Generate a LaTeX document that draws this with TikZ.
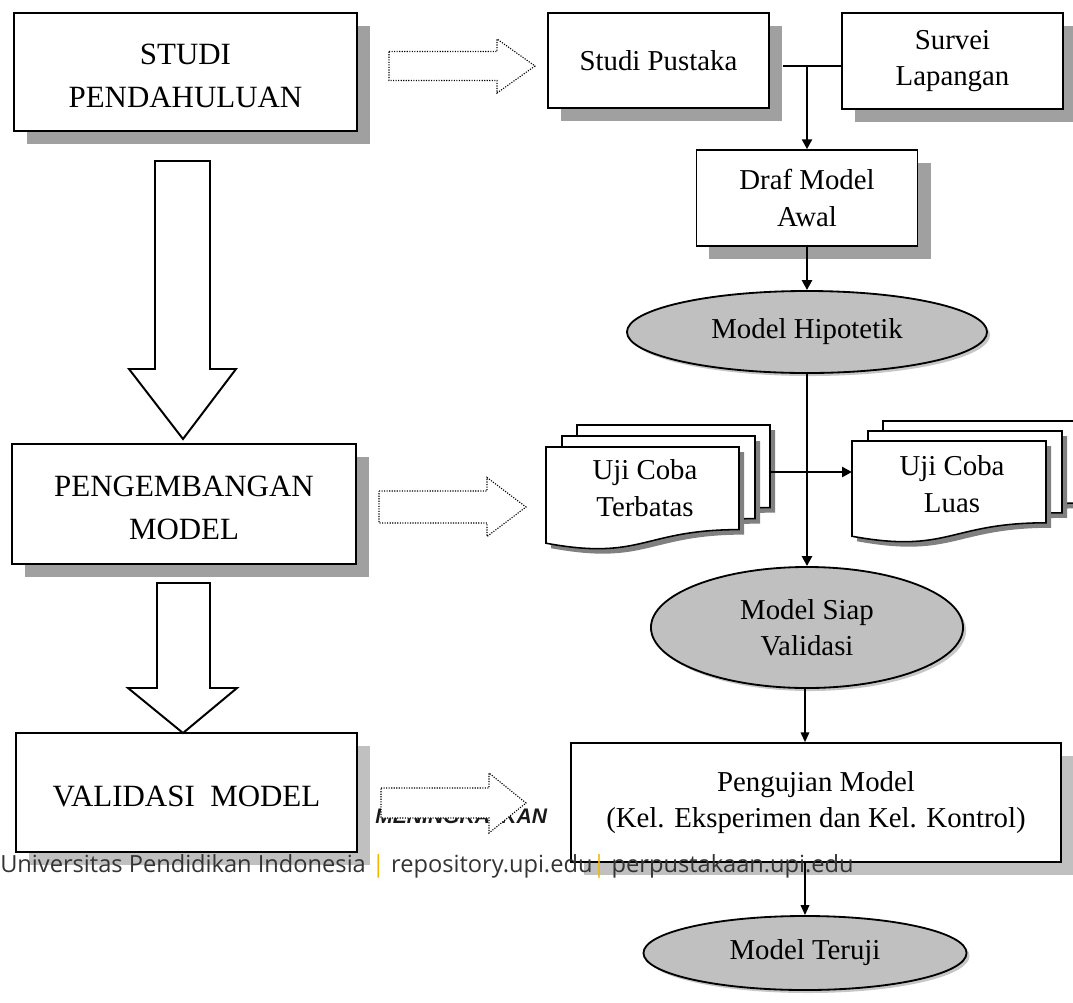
\documentclass[tikz,border=0pt]{standalone}
\usepackage{fontspec}
\setmainfont{Liberation Serif}
\newfontfamily\footfont{Open Sans}
\newfontfamily\headfont{Liberation Sans}
\usetikzlibrary{shapes.geometric,shadows,arrows.meta,calc}

\definecolor{boxshade}{HTML}{A0A0A0}
\definecolor{lightshade}{HTML}{C0C0C0}
\definecolor{docshade}{HTML}{808080}
\definecolor{ovalfill}{HTML}{C0C0C0}
\definecolor{foottext}{HTML}{333333}
\definecolor{footbar}{HTML}{F5B800}

% one page of a document stack: top-left x, top-left y, width, height
\newcommand{\docpage}[4]{%
  \begin{scope}[shift={(#1,#2)}]
    \fill[docshade] (5,5) -- (#3+5,5) -- (#3+5,0.802*#4+5) .. controls (0.5*#3+5,0.802*#4+5) and (0.5*#3+5,1.107*#4+5) .. (5,0.934*#4+5) -- cycle;
    \filldraw[fill=white, draw=black, line width=1.1pt] (0,0) -- (#3,0) -- (#3,0.802*#4) .. controls (0.5*#3,0.802*#4) and (0.5*#3,1.107*#4) .. (0,0.934*#4) -- cycle;
  \end{scope}}

% dotted hollow arrow: left x, head x, tip x, centre y, shaft half, head half
\newcommand{\dotarrow}[6]{%
  \filldraw[fill=white, draw=black, densely dotted, line width=0.8pt]
    (#1,#4-#5) -- (#2,#4-#5) -- (#2,#4-#6) -- (#3,#4) -- (#2,#4+#6) -- (#2,#4+#5) -- (#1,#4+#5) -- cycle;}

\newcommand{\topstrut}{\rule{0pt}{20pt}}

\begin{document}
\begin{tikzpicture}[x=0.025cm, y=-0.025cm]
	\tikzstyle{mainbox} = [draw=black, line width=1.1pt, fill=white, inner sep=0pt, align=center,
		font=\fontsize{22}{30.5}\selectfont,
		drop shadow={shadow xshift=0.325cm, shadow yshift=-0.325cm, fill=boxshade, opacity=1}]
	\tikzstyle{stepbox} = [draw=black, line width=1.1pt, fill=white, inner sep=0pt, align=center,
		font=\fontsize{20.5}{26}\selectfont,
		drop shadow={shadow xshift=0.325cm, shadow yshift=-0.325cm, fill=boxshade, opacity=1}]
	\tikzstyle{oval} = [ellipse, draw=black, line width=1.3pt, fill=ovalfill, inner sep=0pt, align=center,
		font=\fontsize{20.5}{26}\selectfont,
		drop shadow={shadow xshift=0.075cm, shadow yshift=-0.075cm, fill=gray!45, opacity=1}]
	\tikzstyle{doctext} = [align=center, inner sep=0pt, font=\fontsize{20.5}{26}\selectfont]
	\tikzstyle{blockarrow} = [draw=black, fill=white, line width=1.4pt, line join=miter]
	\tikzstyle{conn} = [draw=black, line width=2pt, -{Triangle[length=7pt,width=7pt]}]
	\tikzstyle{thinconn} = [draw=black, line width=1.3pt, -{Triangle[length=7pt,width=6pt]}]

	\useasboundingbox (0,0) rectangle (1073,1002);

	% stages on the left
	\node[mainbox, minimum width=8.575cm, minimum height=2.95cm] (studi) at (185.5,72) {\topstrut STUDI\\PENDAHULUAN};
	\node[mainbox, minimum width=8.6cm, minimum height=3cm] (kembang) at (184,504) {\topstrut PENGEMBANGAN\\MODEL};
	\node[mainbox, minimum width=8.525cm, minimum height=2.975cm,
		drop shadow={shadow xshift=0.325cm, shadow yshift=-0.325cm, fill=lightshade, opacity=1}] (validasi) at (186.5,792.5) {\topstrut VALIDASI\ \ MODEL};

	\draw[blockarrow] (155,161) -- (210,161) -- (210,369) -- (236,369) -- (183,439) -- (129,369) -- (155,369) -- cycle;
	\draw[blockarrow] (157,583) -- (210,583) -- (210,688) -- (237,688) -- (183,733) -- (128,688) -- (157,688) -- cycle;

	\node[anchor=base west, inner sep=0pt, text=black!90, font=\headfont\bfseries\itshape\fontsize{15}{18}\selectfont] (kata) at (375,823) {MENINGKATKAN};

	\dotarrow{389}{497}{535}{66}{14.5}{27}
	\dotarrow{379}{487}{526}{507}{16}{29.5}
	\dotarrow{381}{489}{526}{803}{15}{30}

	% steps on the right
	\node[stepbox, minimum width=5.525cm, minimum height=2.375cm] (pustaka) at (658.5,60.5) {Studi Pustaka};
	\node[stepbox, minimum width=5.525cm, minimum height=2.4cm] (survei) at (952.5,61) {Survei\\Lapangan};
	\node[stepbox, minimum width=5.525cm, minimum height=2.4cm] (draf) at (807,198) {Draf Model\\Awal};
	\node[oval, minimum width=9cm, minimum height=2.05cm] (hipo) at (807,332) {Model Hipotetik};

	\docpage{577}{425}{193}{103}
	\docpage{562}{436}{193}{103}
	\docpage{546}{447}{193}{103}
	\node[doctext] (terbatas) at (645,488) {Uji Coba\\Terbatas};
	\docpage{883}{421}{205}{102}
	\docpage{868}{431}{194}{102}
	\docpage{852}{441}{194}{102}
	\node[doctext] (luas) at (952,484) {Uji Coba\\Luas};

	\node[oval, minimum width=7.8cm, minimum height=3.025cm] (siap) at (807,627.5) {Model Siap\\Validasi};
	\node[stepbox, minimum width=12.25cm, minimum height=2.975cm,
		drop shadow={shadow xshift=0.325cm, shadow yshift=-0.325cm, fill=lightshade, opacity=1}] (pengujian) at (816,802.5) {Pengujian Model\\(Kel. Eksperimen dan Kel. Kontrol)};
	\node[oval, minimum width=8.075cm, minimum height=1.85cm] (teruji) at (805,953) {Model Teruji};

	\coordinate (junc) at (807,66);
	\coordinate (terbatasR) at (769,472);
	\coordinate (luasL) at (852,472);

	\draw[line width=2pt] ($(pustaka.east |- junc)+(13,0)$) -- (survei.west |- junc);
	\draw[conn] (junc) -- (junc |- draf.north);
	\draw[conn] (draf.south) -- (hipo.north);
	\draw[conn] (terbatasR) -- (luasL);
	\draw[conn] (hipo.south) -- (siap.north);
	\draw[thinconn] ([xshift=-0.05cm]siap.south) -- ([xshift=-0.05cm]siap.south |- pengujian.north);
	\draw[thinconn] (pengujian.south -| teruji.north) -- (teruji.north);

	\node[anchor=base west, inner sep=0pt, text=foottext, font=\footfont\fontsize{16.8}{19}\selectfont] (kaki) at (0,872)
		{Universitas Pendidikan Indonesia {\color{footbar}|} repository.upi.edu{\color{footbar}|} perpustakaan.upi.edu};
\end{tikzpicture}
\end{document}
